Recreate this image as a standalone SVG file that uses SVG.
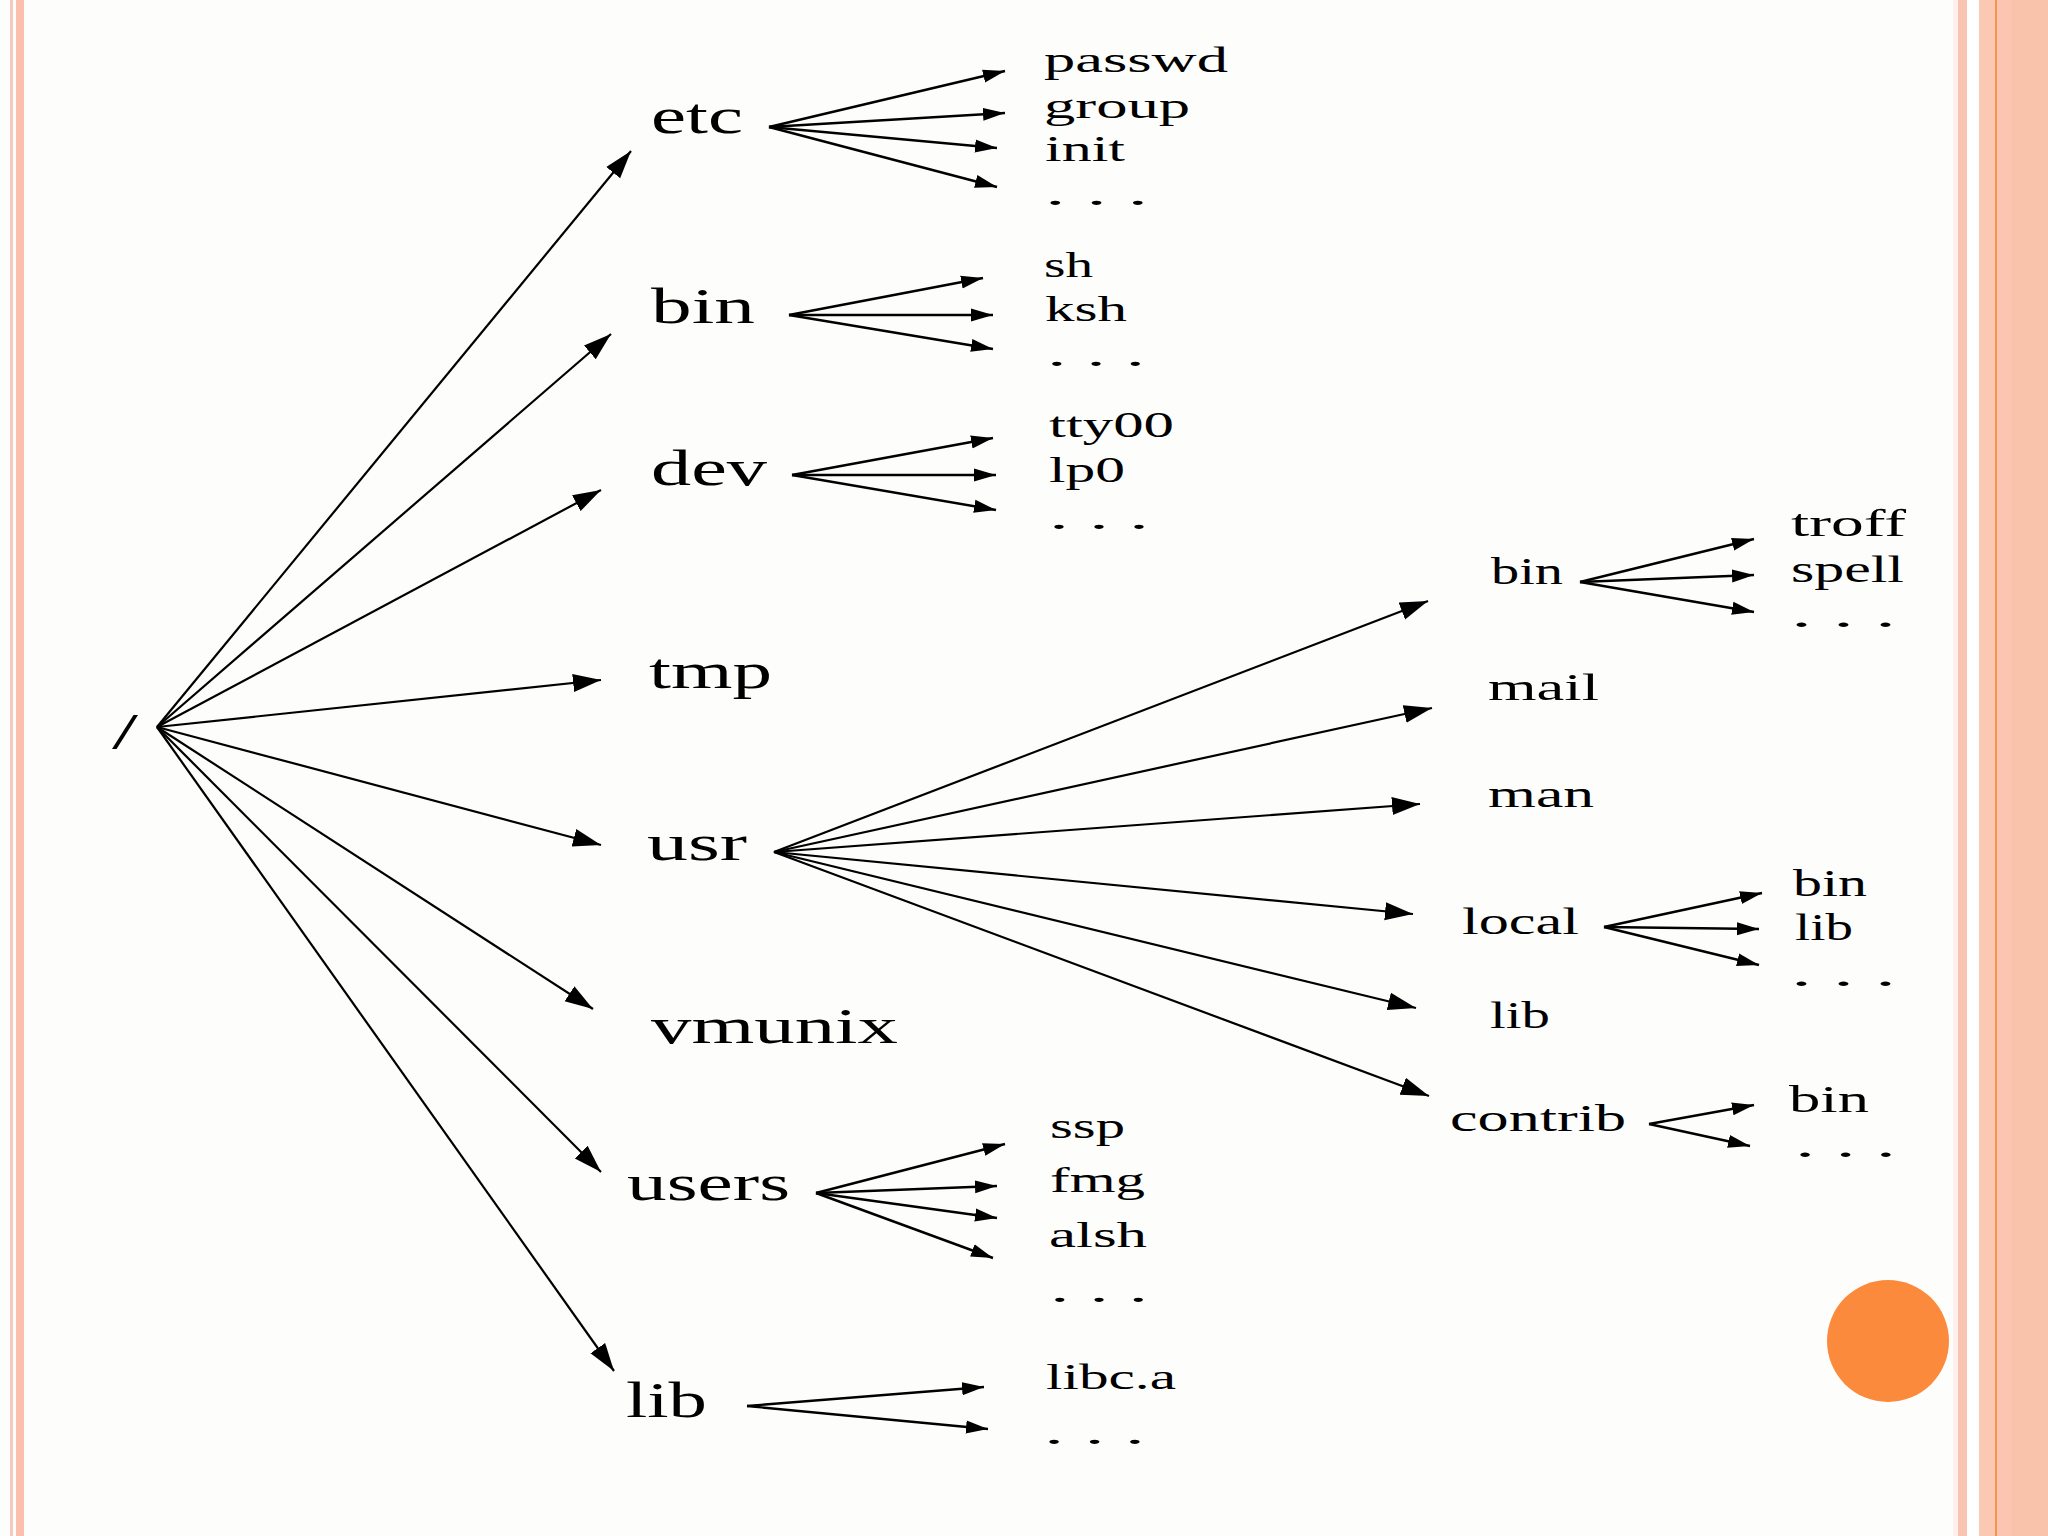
<svg xmlns="http://www.w3.org/2000/svg" width="2048" height="1536" viewBox="0 0 2048 1536">
<defs>
<style>
.bg{fill:#FDFEFC}
.t1{font-family:"Liberation Serif","Times New Roman",serif;font-size:50px;fill:#000}
.t2{font-family:"Liberation Serif","Times New Roman",serif;font-size:35px;fill:#000}
.t3{font-family:"Liberation Serif","Times New Roman",serif;font-size:37px;fill:#000}
.a1{stroke:#000;stroke-width:2.2;fill:none;marker-end:url(#big)}
.a2{stroke:#000;stroke-width:2.4;fill:none;marker-end:url(#small)}
</style>
<marker id="big" markerUnits="userSpaceOnUse" viewBox="0 0 28 20" markerWidth="28" markerHeight="20" refX="28" refY="10" orient="auto">
<path d="M0,1 L28,10 L0,19 z" fill="#000"/>
</marker>
<marker id="small" markerUnits="userSpaceOnUse" viewBox="0 0 22 14" markerWidth="22" markerHeight="14" refX="22" refY="7" orient="auto">
<path d="M0,0.5 L22,7 L0,13.5 z" fill="#000"/>
</marker>
</defs>
<rect class="bg" x="0" y="0" width="2048" height="1536"/>
<g id="frame">
<rect x="10" y="0" width="3" height="1536" fill="#F7C9BE"/>
<rect x="16" y="0" width="8" height="1536" fill="#FDBFAD"/>
<rect x="1953" y="0" width="5" height="1536" fill="#FDF0EC"/>
<rect x="1958" y="0" width="9" height="1536" fill="#FAC4B2"/>
<rect x="1967" y="0" width="12" height="1536" fill="#FFFFFF"/>
<rect x="1979" y="0" width="16" height="1536" fill="#FBC8B4"/>
<rect x="1995" y="0" width="2" height="1536" fill="#F9924C"/>
<rect x="1997" y="0" width="15" height="1536" fill="#FBC6B1"/>
<rect x="2012" y="0" width="36" height="1536" fill="#F9C3AB"/>
<circle cx="1888" cy="1341" r="61" fill="#FB8A3C"/>
</g>
<g id="connectors">
<line class="a1" x1="157" y1="727" x2="631" y2="151"/>
<line class="a1" x1="157" y1="727" x2="611" y2="334"/>
<line class="a1" x1="157" y1="727" x2="601" y2="490"/>
<line class="a1" x1="157" y1="727" x2="601" y2="680"/>
<line class="a1" x1="157" y1="727" x2="601" y2="845"/>
<line class="a1" x1="157" y1="727" x2="593" y2="1009"/>
<line class="a1" x1="157" y1="727" x2="601" y2="1172"/>
<line class="a1" x1="157" y1="727" x2="614" y2="1371"/>
<line class="a2" x1="769" y1="127" x2="1005" y2="71"/>
<line class="a2" x1="769" y1="127" x2="1005" y2="113"/>
<line class="a2" x1="769" y1="127" x2="997" y2="148"/>
<line class="a2" x1="769" y1="127" x2="997" y2="187"/>
<line class="a2" x1="789" y1="315" x2="983" y2="278"/>
<line class="a2" x1="789" y1="315" x2="993" y2="315"/>
<line class="a2" x1="789" y1="315" x2="993" y2="349"/>
<line class="a2" x1="792" y1="475" x2="993" y2="438"/>
<line class="a2" x1="792" y1="475" x2="996" y2="475"/>
<line class="a2" x1="792" y1="475" x2="996" y2="510"/>
<line class="a1" x1="774" y1="852" x2="1428" y2="601"/>
<line class="a1" x1="774" y1="852" x2="1432" y2="708"/>
<line class="a1" x1="774" y1="852" x2="1420" y2="804"/>
<line class="a1" x1="774" y1="852" x2="1413" y2="914"/>
<line class="a1" x1="774" y1="852" x2="1416" y2="1008"/>
<line class="a1" x1="774" y1="852" x2="1429" y2="1096"/>
<line class="a2" x1="816" y1="1193" x2="1005" y2="1144"/>
<line class="a2" x1="816" y1="1193" x2="997" y2="1186"/>
<line class="a2" x1="816" y1="1193" x2="997" y2="1218"/>
<line class="a2" x1="816" y1="1193" x2="993" y2="1258"/>
<line class="a2" x1="747" y1="1406" x2="984" y2="1387"/>
<line class="a2" x1="747" y1="1406" x2="988" y2="1429"/>
<line class="a2" x1="1580" y1="582" x2="1754" y2="539"/>
<line class="a2" x1="1580" y1="582" x2="1754" y2="575"/>
<line class="a2" x1="1580" y1="582" x2="1754" y2="612"/>
<line class="a2" x1="1604" y1="927" x2="1762" y2="893"/>
<line class="a2" x1="1604" y1="927" x2="1759" y2="929"/>
<line class="a2" x1="1604" y1="927" x2="1759" y2="965"/>
<line class="a2" x1="1649" y1="1124" x2="1754" y2="1105"/>
<line class="a2" x1="1649" y1="1124" x2="1750" y2="1146"/>
</g>
<g id="root"><text class="t1" x="112" y="748" textLength="26" lengthAdjust="spacingAndGlyphs">/</text></g>
<g id="etc">
<text class="t1" x="651" y="133" textLength="92" lengthAdjust="spacingAndGlyphs">etc</text>
<text class="t2" x="1044" y="72" textLength="184" lengthAdjust="spacingAndGlyphs">passwd</text>
<text class="t2" x="1044" y="118" textLength="146" lengthAdjust="spacingAndGlyphs">group</text>
<text class="t2" x="1045" y="161" textLength="80" lengthAdjust="spacingAndGlyphs">init</text>
<text class="t2" x="1045" y="205" textLength="103" lengthAdjust="spacingAndGlyphs">. . .</text>
</g>
<g id="bin">
<text class="t1" x="651" y="323" textLength="104" lengthAdjust="spacingAndGlyphs">bin</text>
<text class="t2" x="1044" y="277" textLength="49" lengthAdjust="spacingAndGlyphs">sh</text>
<text class="t2" x="1045" y="321" textLength="82" lengthAdjust="spacingAndGlyphs">ksh</text>
<text class="t2" x="1047" y="366" textLength="98" lengthAdjust="spacingAndGlyphs">. . .</text>
</g>
<g id="dev">
<text class="t1" x="651" y="485" textLength="116" lengthAdjust="spacingAndGlyphs">dev</text>
<text class="t2" x="1049" y="437" textLength="125" lengthAdjust="spacingAndGlyphs">tty00</text>
<text class="t2" x="1049" y="482" textLength="76" lengthAdjust="spacingAndGlyphs">lp0</text>
<text class="t2" x="1049" y="529" textLength="100" lengthAdjust="spacingAndGlyphs">. . .</text>
</g>
<g id="tmp"><text class="t1" x="649" y="688" textLength="123" lengthAdjust="spacingAndGlyphs">tmp</text></g>
<g id="usr">
<text class="t1" x="647" y="860" textLength="100" lengthAdjust="spacingAndGlyphs">usr</text>
</g>
<g id="usr-bin">
<text class="t3" x="1491" y="584" textLength="72" lengthAdjust="spacingAndGlyphs">bin</text>
<text class="t3" x="1791" y="536" textLength="115" lengthAdjust="spacingAndGlyphs">troff</text>
<text class="t3" x="1791" y="582" textLength="113" lengthAdjust="spacingAndGlyphs">spell</text>
<text class="t3" x="1791" y="627" textLength="105" lengthAdjust="spacingAndGlyphs">. . .</text>
</g>
<g id="usr-mail"><text class="t3" x="1488" y="700" textLength="111" lengthAdjust="spacingAndGlyphs">mail</text></g>
<g id="usr-man"><text class="t3" x="1488" y="807" textLength="106" lengthAdjust="spacingAndGlyphs">man</text></g>
<g id="usr-local">
<text class="t3" x="1462" y="934" textLength="117" lengthAdjust="spacingAndGlyphs">local</text>
<text class="t3" x="1793" y="896" textLength="74" lengthAdjust="spacingAndGlyphs">bin</text>
<text class="t3" x="1795" y="940" textLength="58" lengthAdjust="spacingAndGlyphs">lib</text>
<text class="t3" x="1791" y="986" textLength="105" lengthAdjust="spacingAndGlyphs">. . .</text>
</g>
<g id="usr-lib"><text class="t3" x="1490" y="1028" textLength="60" lengthAdjust="spacingAndGlyphs">lib</text></g>
<g id="usr-contrib">
<text class="t3" x="1450" y="1131" textLength="176" lengthAdjust="spacingAndGlyphs">contrib</text>
<text class="t3" x="1789" y="1112" textLength="80" lengthAdjust="spacingAndGlyphs">bin</text>
<text class="t3" x="1795" y="1157" textLength="101" lengthAdjust="spacingAndGlyphs">. . .</text>
</g>
<g id="vmunix"><text class="t1" x="651" y="1043" textLength="247" lengthAdjust="spacingAndGlyphs">vmunix</text></g>
<g id="users">
<text class="t1" x="627" y="1200" textLength="163" lengthAdjust="spacingAndGlyphs">users</text>
<text class="t2" x="1050" y="1138" textLength="75" lengthAdjust="spacingAndGlyphs">ssp</text>
<text class="t2" x="1050" y="1192" textLength="95" lengthAdjust="spacingAndGlyphs">fmg</text>
<text class="t2" x="1049" y="1247" textLength="98" lengthAdjust="spacingAndGlyphs">alsh</text>
<text class="t2" x="1050" y="1302" textLength="98" lengthAdjust="spacingAndGlyphs">. . .</text>
</g>
<g id="lib">
<text class="t1" x="626" y="1417" textLength="81" lengthAdjust="spacingAndGlyphs">lib</text>
<text class="t2" x="1046" y="1389" textLength="130" lengthAdjust="spacingAndGlyphs">libc.a</text>
<text class="t2" x="1044" y="1444" textLength="101" lengthAdjust="spacingAndGlyphs">. . .</text>
</g>
</svg>
